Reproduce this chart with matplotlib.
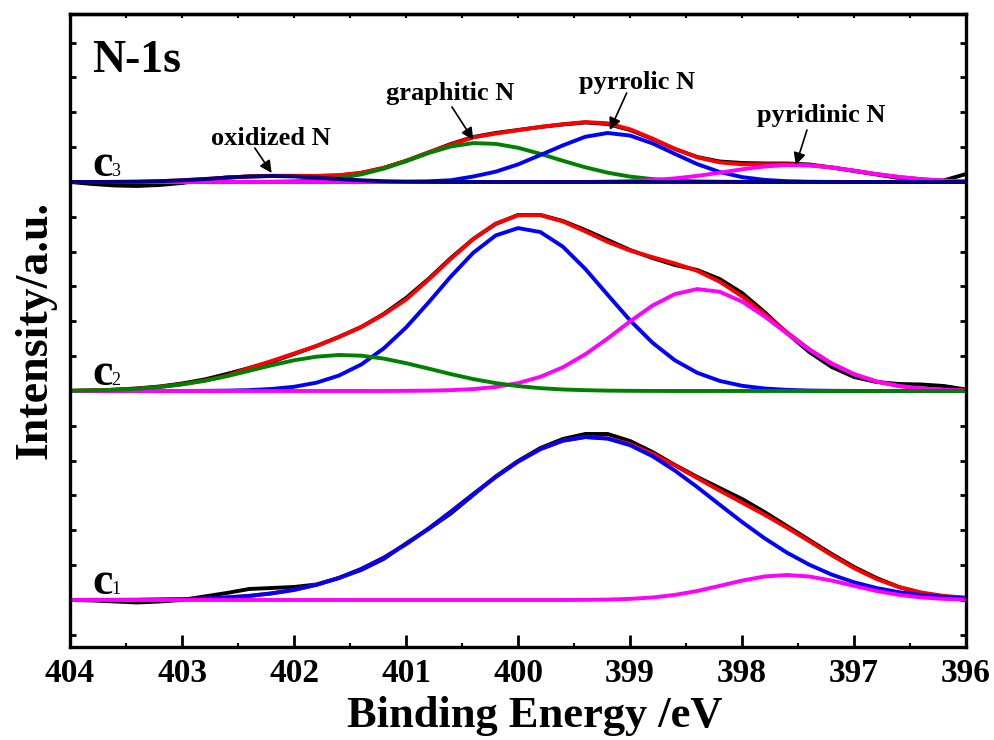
import numpy as np
import matplotlib
matplotlib.use('Agg')
import matplotlib.pyplot as plt

plt.rcParams['font.family'] = ['Liberation Serif', 'DejaVu Serif']
plt.rcParams['font.weight'] = 'bold'

# binding energy grid (eV), 404 -> 396
energy = np.linspace(404, 396, 41)

# vertical offsets of the stacked spectra
offsets = [0, 209, 418]
curve_labels = ['1', '2', '3']

# ---- c1 ----
c1_raw = [0, -0.5, -1.5, -2.5, -1.5, 0, 3.5, 7, 11, 12, 13, 15.5, 22, 30, 41,
          56.5, 71, 86.5, 105, 123.5, 139, 152, 161, 166, 166, 159, 148, 135, 123, 112,
          101, 88, 74, 60, 46, 33, 22, 13, 7, 3.5, 2]
c1_fit = [0.0, 0.1, 0.1, 0.2, 0.5, 0.8, 1.5, 2.5, 4.1, 6.6, 10.1, 15.2, 22.0, 31.0, 42.2,
          55.9, 71.3, 88.3, 105.9, 123.0, 138.4, 150.9, 159.3, 163.0, 161.7, 155.9, 146.3,
          134.5, 121.9, 109.4, 97.4, 85.3, 72.4, 58.8, 44.8, 31.8, 21.0, 12.9, 7.5, 4.1, 2.2]
c1_pyrrolic = [0.0, 0.1, 0.1, 0.2, 0.5, 0.8, 1.5, 2.5, 4.1, 6.6, 10.1, 15.2, 22.0, 31.0, 42.2,
               55.9, 71.3, 88.3, 105.9, 123.0, 138.4, 150.9, 159.3, 162.9, 161.3, 154.8, 143.8,
               129.4, 112.9, 95.3, 78.0, 61.8, 47.4, 35.3, 25.4, 17.7, 12.0, 7.8, 5.0, 3.0, 1.8]
c1_pyridinic = [0, 0, 0, 0, 0, 0, 0, 0, 0, 0, 0, 0, 0, 0, 0, 0, 0, 0, 0, 0, 0, 0, 0,
                0.1, 0.4, 1.1, 2.5, 5.1, 9.0, 14.1, 19.4, 23.5, 25.0, 23.5, 19.4, 14.1, 9.0,
                5.1, 2.5, 1.1, 0.4]

# ---- c2 ----
c2_raw = [0, 0.5, 1.3, 2.6, 4.5, 7.5, 11.5, 17, 23, 29, 37, 45, 54, 64, 77,
          93, 112, 133, 152, 167, 176, 176, 170, 161, 151, 141, 133, 126, 121, 112,
          98, 79, 58, 39, 24, 14, 9, 7, 6.5, 5, 1.5]
c2_fit = [0.3, 0.6, 1.2, 2.2, 4.0, 6.7, 10.3, 15.2, 23, 30, 37.5, 45, 54, 64, 76.5,
          91.4, 111.2, 132.2, 152.0, 167.4, 175.7, 175.9, 169.5, 159.6, 149.1, 140.4, 133.8,
          127.6, 120.1, 109.3, 94.6, 77.1, 58.7, 41.7, 27.5, 16.8, 9.5, 5.0, 2.4, 1.1, 0.45]
c2_pyrrolic = [0, 0, 0, 0, 0, 0.05, 0.13, 0.35, 0.85, 2.0, 4.2, 8.3, 15.4, 26.5, 42.5,
               63.5, 88.4, 114.5, 138.2, 155.5, 162.9, 158.9, 144.3, 122.1, 96.2, 70.6, 48.3,
               30.7, 18.2, 10.1, 5.2, 2.5, 1.1, 0.46, 0.18, 0.06, 0, 0, 0, 0, 0]
c2_pyridinic = [0, 0, 0, 0, 0, 0, 0, 0, 0, 0, 0, 0, 0, 0, 0,
                0.13, 0.35, 0.84, 1.9, 4.0, 7.9, 14.2, 23.7, 36.7, 52.5, 69.6, 85.4, 96.9,
                101.9, 99.2, 89.4, 74.6, 57.6, 41.2, 27.3, 16.7, 9.5, 5.0, 2.4, 1.1, 0.45]
c2_graphitic = [0.3, 0.6, 1.2, 2.2, 4.0, 6.6, 10.2, 14.8, 20.2, 25.7, 30.7, 34.3, 36.0, 35.3,
                32.4, 27.8, 22.4, 16.9, 11.9, 7.9, 4.9, 2.8, 1.5, 0.8, 0.35, 0.15, 0.06,
                0, 0, 0, 0, 0, 0, 0, 0, 0, 0, 0, 0, 0, 0]

# ---- c3 ----
c3_raw = [0, -2, -3.5, -4, -3, -1, 2, 4.5, 5.5, 6, 6, 6, 6.5, 9, 14,
          21, 29.5, 38, 45, 49, 52, 55, 57.5, 59.5, 58, 52, 43, 33, 25, 20.5,
          19, 18.5, 18.5, 17.5, 14.5, 11, 7.5, 4, 0.5, 1.5, 8]
c3_fit = [0, 0, 0.1, 0.3, 0.8, 1.7, 2.9, 4.4, 5.6, 6.2, 6.2, 6.1, 6.7, 9.3, 14.2,
          21.3, 29.6, 37.3, 44.6, 48.4, 51.8, 55.1, 57.8, 59.9, 58.7, 52.7, 43.4, 33.1,
          24.6, 19.6, 17.7, 17.6, 17.7, 16.8, 14.6, 11.3, 7.9, 5.0, 2.8, 1.4, 0.6]
c3_graphitic = [0, 0, 0, 0, 0, 0, 0, 0, 0.1, 0.24, 0.7, 1.7, 3.8, 7.6, 13.3,
                20.8, 28.9, 35.5, 38.9, 38.1, 34.2, 28.1, 21.2, 14.7, 9.3, 5.4, 2.9, 1.4,
                0.6, 0.3, 0.1, 0, 0, 0, 0, 0, 0, 0, 0, 0, 0]
c3_pyrrolic = [0, 0, 0, 0, 0, 0, 0, 0, 0, 0, 0, 0, 0, 0, 0,
               0.2, 0.64, 1.75, 5.5, 10.3, 17.6, 27.0, 36.6, 45.2, 49.0, 46.4, 38.6, 28.1,
               17.9, 10.0, 4.9, 2.1, 0.8, 0.26, 0.1, 0, 0, 0, 0, 0, 0]
c3_pyridinic = [0, 0, 0, 0, 0, 0, 0, 0, 0, 0, 0, 0, 0, 0, 0, 0, 0, 0, 0, 0, 0, 0, 0, 0,
                0.37, 0.9, 1.9, 3.6, 6.1, 9.3, 12.7, 15.5, 16.9, 16.5, 14.5, 11.3, 7.9,
                5.0, 2.8, 1.4, 0.6]
c3_oxidized = [0, 0, 0.1, 0.3, 0.8, 1.7, 2.9, 4.4, 5.5, 6.0, 5.5, 4.4, 2.9, 1.7, 0.8,
               0.3, 0.1, 0, 0, 0, 0, 0, 0, 0, 0, 0, 0, 0, 0, 0, 0, 0, 0, 0, 0, 0, 0, 0, 0, 0, 0]

LW = 2.8

fig = plt.figure(figsize=(9.95, 7.4), dpi=100)
ax = fig.add_axes([0.0704, 0.1257, 0.9005, 0.8554])

def draw(series, off):
    for vals, col in series:
        ax.plot(energy, np.array(vals) + off, color=col, lw=LW,
                solid_capstyle='butt', solid_joinstyle='round')

draw([(c1_raw, 'black'), (c1_fit, 'red'), (c1_pyrrolic, 'blue'),
      (c1_pyridinic, 'magenta')], offsets[0])
draw([(c2_raw, 'black'), (c2_fit, 'red'), (c2_pyrrolic, 'blue'),
      (c2_pyridinic, 'magenta'), (c2_graphitic, 'green')], offsets[1])
draw([(c3_raw, 'black'), (c3_fit, 'red'), (c3_graphitic, 'green'),
      (c3_pyrrolic, 'blue'), (c3_pyridinic, 'magenta'), (c3_oxidized, '#000080')], offsets[2])

ax.set_xlim(404, 396)
ax.set_ylim(-47, 586)

# curve labels c1, c2, c3
for off, sub in zip(offsets, curve_labels):
    ax.text(403.80, off + 6, 'c', fontsize=33, fontweight='bold', ha='left', va='baseline')
    ax.text(403.63, off + 6, sub, fontsize=13, fontweight='normal', ha='left', va='baseline')

ax.text(403.80, 528, 'N-1s', fontsize=33, fontweight='bold', ha='left', va='baseline')

# peak annotations
arrow = dict(arrowstyle='-|>', color='black', lw=1.2, mutation_scale=18, shrinkA=0, shrinkB=0)
ann = [('oxidized N', 402.21, 455, (402.35, 452), (402.20, 427)),
       ('graphitic N', 400.61, 500, (400.59, 493), (400.40, 460)),
       ('pyrrolic N', 398.94, 511, (399.03, 507), (399.18, 470)),
       ('pyridinic N', 397.29, 478, (397.42, 470), (397.52, 435))]
for txt, tx, ty, tail, tip in ann:
    ax.text(tx, ty, txt, fontsize=19, fontweight='bold', ha='center', va='baseline')
    ax.annotate('', xy=tip, xytext=tail, arrowprops=arrow)

# ticks
ax.set_xticks(np.arange(396, 405, 1))
ax.set_xticks(np.arange(396, 404.5, 0.5), minor=True)
ax.set_yticks(np.arange(-1, 17) * 209 / 6)
ax.set_yticklabels([])
ax.tick_params(axis='x', which='major', direction='in', length=8.5, width=2, labelsize=24, pad=8)
ax.tick_params(axis='x', which='minor', direction='in', length=3, width=1.5)
ax.tick_params(axis='y', which='major', direction='in', length=4, width=2, left=True, right=True)
for lab in ax.get_xticklabels():
    lab.set_fontweight('bold')

top = ax.secondary_xaxis('top')
top.set_xticks(np.arange(396, 404.5, 0.5))
top.tick_params(direction='in', length=3, width=1.5, labeltop=False)
top.set_xticklabels([])

for sp in ax.spines.values():
    sp.set_linewidth(2.4)
top.spines['top'].set_linewidth(2.4)

ax.set_xlabel('Binding Energy /eV', fontsize=32, fontweight='bold')
ax.xaxis.set_label_coords(0.519, -0.077)
ax.set_ylabel('Intensity/a.u.', fontsize=33, fontweight='bold', labelpad=6)

fig.savefig('out.png', dpi=100)
